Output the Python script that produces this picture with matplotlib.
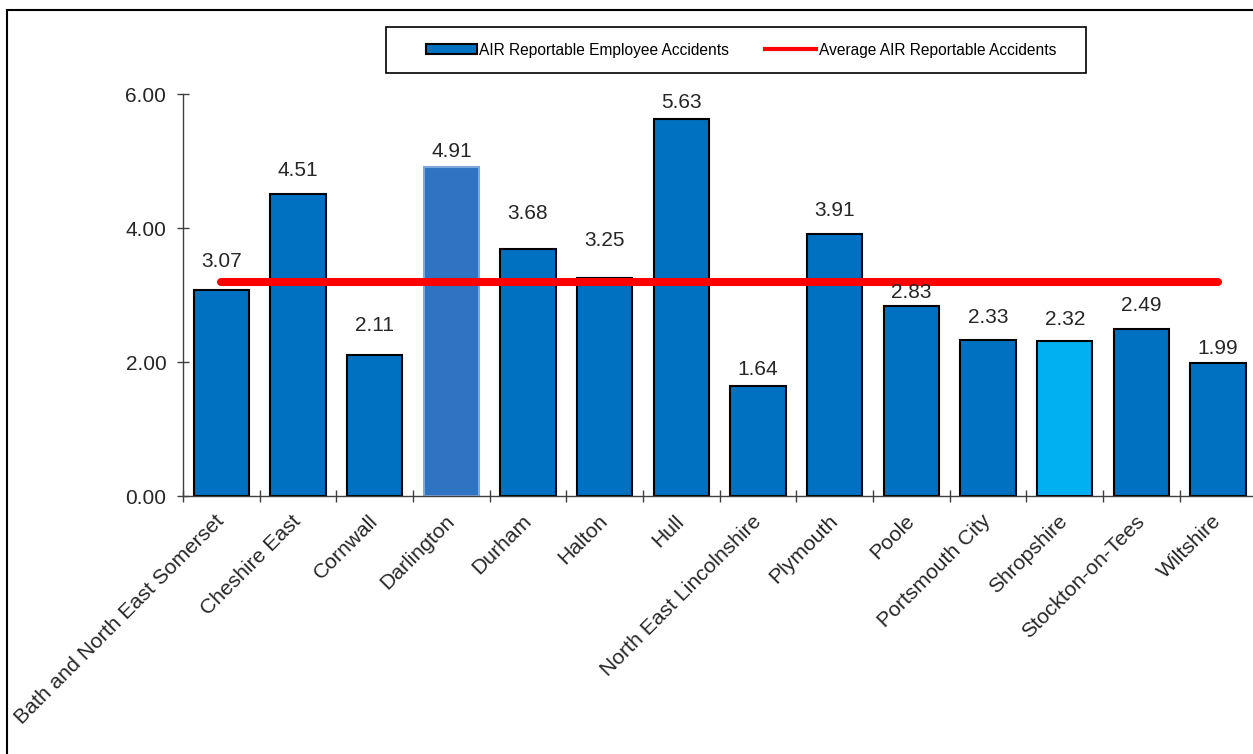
import matplotlib.pyplot as plt
from matplotlib.lines import Line2D
from matplotlib.patches import Patch, Rectangle

plt.rcParams['font.family'] = ['Liberation Sans', 'DejaVu Sans']

# AIR reportable employee accidents by authority
authorities = ["Bath and North East Somerset", "Cheshire East", "Cornwall",
               "Darlington", "Durham", "Halton", "Hull",
               "North East Lincolnshire", "Plymouth", "Poole",
               "Portsmouth City", "Shropshire", "Stockton-on-Tees", "Wiltshire"]
accidents = [3.07, 4.51, 2.11, 4.91, 3.68, 3.25, 5.63,
             1.64, 3.91, 2.83, 2.33, 2.32, 2.49, 1.99]
average = 3.19
yticks = [0, 2, 4, 6]

# label offsets above the bar tops (points)
label_pad = [21, 17, 21, 11, 26, 27, 12, 12, 17, 10, 16, 15, 17, 10]

dark = '#0070C0'
fills = [dark] * len(authorities)
edges = ['black'] * len(authorities)
fills[3] = '#2E74C2'
edges[3] = '#7EA8DC'
fills[11] = '#00B0F0'

fig = plt.figure(figsize=(12.53, 7.54), dpi=100)
ax = fig.add_axes([183 / 1253, 258 / 754, 1073.4 / 1253, 402 / 754])

x = range(len(authorities))
ax.bar(x, accidents, width=0.72, color=fills, edgecolor=edges,
       linewidth=1.5, zorder=2)
ax.plot([0, len(authorities) - 1], [average, average], color='#FF0000',
        lw=5.8, solid_capstyle='round', zorder=3)

for i, v in enumerate(accidents):
    ax.annotate(f"{v:.2f}", (i, v), xytext=(0, label_pad[i]),
                textcoords='offset points', ha='center', va='center',
                fontsize=15, color='#262626')

ax.set_xlim(-0.5, len(authorities) - 0.5)
ax.set_ylim(0, 6)
ax.set_yticks(yticks)
ax.set_yticklabels([f"{t:.2f}" for t in yticks])

# ticks sit between categories, names sit under the bars
ax.set_xticks([i - 0.5 for i in range(len(authorities) + 1)])
ax.set_xticklabels([])
ax.set_xticks(list(x), minor=True)
ax.set_xticklabels(authorities, minor=True, rotation=45, ha='right',
                   va='center', rotation_mode='anchor', fontsize=15.2,
                   color='#262626')
ax.tick_params(axis='x', which='major', direction='inout', length=8,
               width=1, color='#404040')
ax.tick_params(axis='x', which='minor', length=0, pad=16)
ax.tick_params(axis='y', direction='inout', length=8, width=1,
               color='#404040', labelsize=15, labelcolor='#262626', pad=8)

for s in ['top', 'right']:
    ax.spines[s].set_visible(False)
for s in ['left', 'bottom']:
    ax.spines[s].set_color('#404040')
    ax.spines[s].set_linewidth(1)

# legend box
fig.add_artist(Rectangle((386 / 1253, 1 - 73 / 754), 700 / 1253, 46 / 754,
                         transform=fig.transFigure, fill=False,
                         edgecolor='black', lw=1.2))
handles = [Patch(facecolor=dark, edgecolor='black', lw=1.5),
           Line2D([0], [0], color='#FF0000', lw=3)]
fig.legend(handles, ["AIR Reportable Employee Accidents",
                     "Average AIR Reportable Accidents"],
           loc='center', bbox_to_anchor=(741 / 1253, 1 - 50 / 754),
           ncol=2, frameon=False, fontsize=11.2, handlelength=3.3,
           handleheight=0.55, handletextpad=0.15, columnspacing=2.3)

# outer frame
fig.add_artist(Line2D([7 / 1253, 7 / 1253], [0, 1 - 10 / 754],
                      transform=fig.transFigure, color='black', lw=1.5))
fig.add_artist(Line2D([7 / 1253, 1], [1 - 10 / 754, 1 - 10 / 754],
                      transform=fig.transFigure, color='black', lw=1.5))

fig.savefig('out.png', dpi=100)
